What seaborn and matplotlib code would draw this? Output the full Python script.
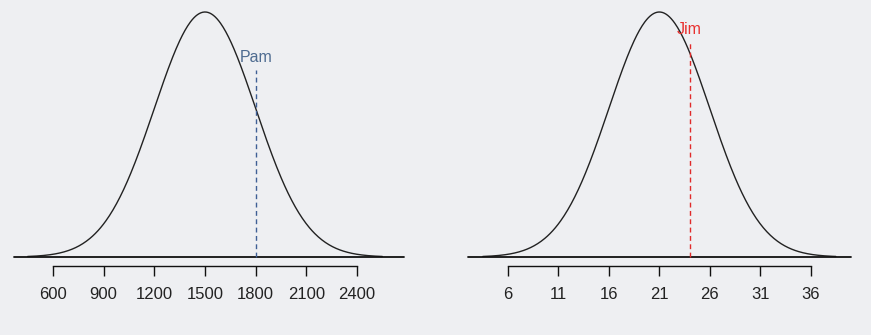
import numpy as np
import pandas as pd
import matplotlib
matplotlib.use("Agg")
import matplotlib.pyplot as plt
import seaborn as sns

# ---- data ----
means = [1500, 21]
sds = [300, 5]
names = ["Pam", "Jim"]
scores = [1800, 24]
ticks_left = [600, 900, 1200, 1500, 1800, 2100, 2400]
ticks_right = [6, 11, 16, 21, 26, 31, 36]
name_colors = ["#4E6B90", "#E8302F"]
line_colors = ["#3F5F95", "#E02A2A"]

sns.set_theme(style="white")
plt.rcParams["font.family"] = ["Liberation Sans", "DejaVu Sans"]

W, H = 871, 335
fig = plt.figure(figsize=(W / 100, H / 100), dpi=100)
bg = "#EEEFF2"
fig.patch.set_facecolor(bg)

# pixel-space layout helpers
panels = [
    dict(px0=0, px1=435, xlim=(286.2, 2861.8), ticks=ticks_left,
         base=(370, 2680), label_top=70, text_y=57),
    dict(px0=435, px1=871, xlim=(-1.235, 41.98), ticks=ticks_right,
         base=(2.0, 40.0), label_top=43, text_y=29),
]

def py_to_d(py):
    return (257 - py) / 245.0

ylim = (py_to_d(335), py_to_d(0))

for i, p in enumerate(panels):
    ax = fig.add_axes([p["px0"] / W, 0, (p["px1"] - p["px0"]) / W, 1])
    ax.set_facecolor(bg)
    m, s = means[i], sds[i]
    x = np.linspace(m - 3.5 * s, m + 3.5 * s, 400)
    d = np.exp(-0.5 * ((x - m) / s) ** 2)
    df = pd.DataFrame({"x": x, "d": d})
    sns.lineplot(data=df, x="x", y="d", ax=ax, color="#222222", lw=1.0)
    ax.plot(p["base"], [0, 0], color="#111111", lw=1.3)
    ax.plot([scores[i], scores[i]], [0, py_to_d(p["label_top"])],
            color=line_colors[i], lw=1.0, ls=(0, (3.5, 2.5)))
    ax.text(scores[i], py_to_d(p["text_y"]), names[i], color=name_colors[i],
            ha="center", va="center", fontsize=11.5)
    ax.set_xlim(*p["xlim"])
    ax.set_ylim(*ylim)
    for sp in ["top", "right", "left"]:
        ax.spines[sp].set_visible(False)
    ax.spines["bottom"].set_position(("data", py_to_d(266)))
    ax.spines["bottom"].set_bounds(p["ticks"][0], p["ticks"][-1])
    ax.spines["bottom"].set_color("#111111")
    ax.spines["bottom"].set_linewidth(1.0)
    ax.set_xticks(p["ticks"])
    ax.set_xticklabels([str(t) for t in p["ticks"]])
    ax.tick_params(axis="x", bottom=True, direction="out", length=7.2, width=1.0,
                   color="#111111", pad=8, labelsize=12, labelcolor="#222222")
    ax.set_yticks([])
    ax.set_xlabel("")
    ax.set_ylabel("")

fig.savefig("out.png", dpi=100, facecolor=bg)
